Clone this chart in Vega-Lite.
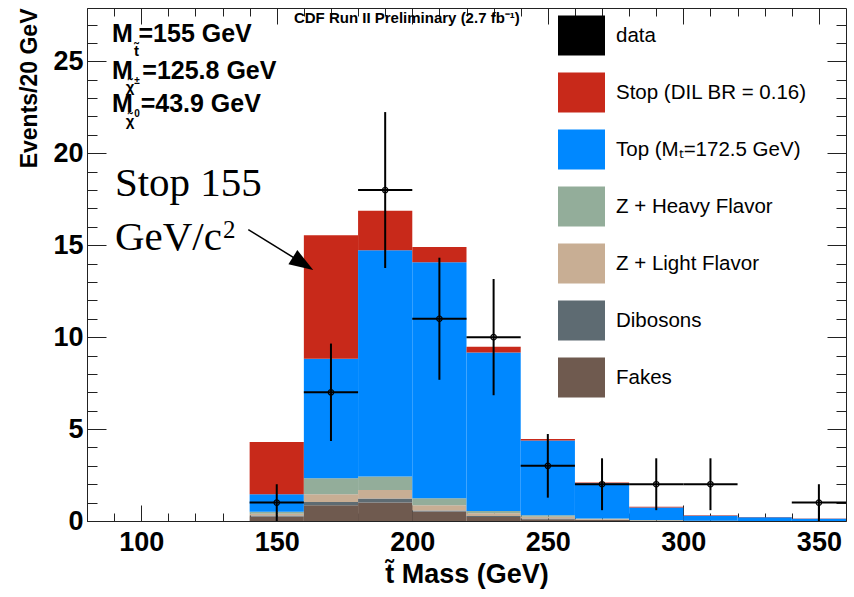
{
  "$schema": "https://vega.github.io/schema/vega-lite/v6.json",
  "width": 759,
  "height": 513,
  "autosize": {"type": "none"},
  "padding": {"left": 87, "top": 8, "right": 8, "bottom": 76},
  "background": "white",
  "config": {
    "view": {"stroke": "#222", "strokeWidth": 1},
    "font": "Liberation Sans",
    "axis": {"grid": false, "zindex": 1, "tickColor": "#222", "domainColor": "#222", "tickWidth": 1}
  },
  "datasets": {
    "bars": [
      {"lo": 140, "hi": 160, "proc": "Fakes", "ord": 1, "v": 0.25},
      {"lo": 140, "hi": 160, "proc": "Dibosons", "ord": 2, "v": 0.05},
      {"lo": 140, "hi": 160, "proc": "Z + Light Flavor", "ord": 3, "v": 0.1},
      {"lo": 140, "hi": 160, "proc": "Z + Heavy Flavor", "ord": 4, "v": 0.1},
      {"lo": 140, "hi": 160, "proc": "Top (Mₜ=172.5 GeV)", "ord": 5, "v": 0.95},
      {"lo": 140, "hi": 160, "proc": "Stop (DIL BR = 0.16)", "ord": 6, "v": 2.85},
      {"lo": 160, "hi": 180, "proc": "Fakes", "ord": 1, "v": 0.86},
      {"lo": 160, "hi": 180, "proc": "Dibosons", "ord": 2, "v": 0.17},
      {"lo": 160, "hi": 180, "proc": "Z + Light Flavor", "ord": 3, "v": 0.42},
      {"lo": 160, "hi": 180, "proc": "Z + Heavy Flavor", "ord": 4, "v": 0.88},
      {"lo": 160, "hi": 180, "proc": "Top (Mₜ=172.5 GeV)", "ord": 5, "v": 6.49},
      {"lo": 160, "hi": 180, "proc": "Stop (DIL BR = 0.16)", "ord": 6, "v": 6.72},
      {"lo": 180, "hi": 200, "proc": "Fakes", "ord": 1, "v": 1.0},
      {"lo": 180, "hi": 200, "proc": "Dibosons", "ord": 2, "v": 0.22},
      {"lo": 180, "hi": 200, "proc": "Z + Light Flavor", "ord": 3, "v": 0.47},
      {"lo": 180, "hi": 200, "proc": "Z + Heavy Flavor", "ord": 4, "v": 0.73},
      {"lo": 180, "hi": 200, "proc": "Top (Mₜ=172.5 GeV)", "ord": 5, "v": 12.3},
      {"lo": 180, "hi": 200, "proc": "Stop (DIL BR = 0.16)", "ord": 6, "v": 2.16},
      {"lo": 200, "hi": 220, "proc": "Fakes", "ord": 1, "v": 0.51},
      {"lo": 200, "hi": 220, "proc": "Dibosons", "ord": 2, "v": 0.06},
      {"lo": 200, "hi": 220, "proc": "Z + Light Flavor", "ord": 3, "v": 0.29},
      {"lo": 200, "hi": 220, "proc": "Z + Heavy Flavor", "ord": 4, "v": 0.38},
      {"lo": 200, "hi": 220, "proc": "Top (Mₜ=172.5 GeV)", "ord": 5, "v": 12.83},
      {"lo": 200, "hi": 220, "proc": "Stop (DIL BR = 0.16)", "ord": 6, "v": 0.83},
      {"lo": 220, "hi": 240, "proc": "Fakes", "ord": 1, "v": 0.22},
      {"lo": 220, "hi": 240, "proc": "Dibosons", "ord": 2, "v": 0.05},
      {"lo": 220, "hi": 240, "proc": "Z + Light Flavor", "ord": 3, "v": 0.15},
      {"lo": 220, "hi": 240, "proc": "Z + Heavy Flavor", "ord": 4, "v": 0.13},
      {"lo": 220, "hi": 240, "proc": "Top (Mₜ=172.5 GeV)", "ord": 5, "v": 8.62},
      {"lo": 220, "hi": 240, "proc": "Stop (DIL BR = 0.16)", "ord": 6, "v": 0.31},
      {"lo": 240, "hi": 260, "proc": "Fakes", "ord": 1, "v": 0.1},
      {"lo": 240, "hi": 260, "proc": "Dibosons", "ord": 2, "v": 0.03},
      {"lo": 240, "hi": 260, "proc": "Z + Light Flavor", "ord": 3, "v": 0.1},
      {"lo": 240, "hi": 260, "proc": "Z + Heavy Flavor", "ord": 4, "v": 0.08},
      {"lo": 240, "hi": 260, "proc": "Top (Mₜ=172.5 GeV)", "ord": 5, "v": 4.07},
      {"lo": 240, "hi": 260, "proc": "Stop (DIL BR = 0.16)", "ord": 6, "v": 0.08},
      {"lo": 260, "hi": 280, "proc": "Fakes", "ord": 1, "v": 0.05},
      {"lo": 260, "hi": 280, "proc": "Dibosons", "ord": 2, "v": 0.02},
      {"lo": 260, "hi": 280, "proc": "Z + Light Flavor", "ord": 3, "v": 0.04},
      {"lo": 260, "hi": 280, "proc": "Z + Heavy Flavor", "ord": 4, "v": 0.02},
      {"lo": 260, "hi": 280, "proc": "Top (Mₜ=172.5 GeV)", "ord": 5, "v": 1.92},
      {"lo": 260, "hi": 280, "proc": "Stop (DIL BR = 0.16)", "ord": 6, "v": 0.04},
      {"lo": 280, "hi": 300, "proc": "Fakes", "ord": 1, "v": 0.02},
      {"lo": 280, "hi": 300, "proc": "Dibosons", "ord": 2, "v": 0.01},
      {"lo": 280, "hi": 300, "proc": "Z + Light Flavor", "ord": 3, "v": 0.01},
      {"lo": 280, "hi": 300, "proc": "Z + Heavy Flavor", "ord": 4, "v": 0.01},
      {"lo": 280, "hi": 300, "proc": "Top (Mₜ=172.5 GeV)", "ord": 5, "v": 0.68},
      {"lo": 280, "hi": 300, "proc": "Stop (DIL BR = 0.16)", "ord": 6, "v": 0.04},
      {"lo": 300, "hi": 320, "proc": "Fakes", "ord": 1, "v": 0.01},
      {"lo": 300, "hi": 320, "proc": "Z + Light Flavor", "ord": 3, "v": 0.01},
      {"lo": 300, "hi": 320, "proc": "Top (Mₜ=172.5 GeV)", "ord": 5, "v": 0.27},
      {"lo": 300, "hi": 320, "proc": "Stop (DIL BR = 0.16)", "ord": 6, "v": 0.02},
      {"lo": 320, "hi": 340, "proc": "Top (Mₜ=172.5 GeV)", "ord": 5, "v": 0.21},
      {"lo": 320, "hi": 340, "proc": "Stop (DIL BR = 0.16)", "ord": 6, "v": 0.01},
      {"lo": 340, "hi": 360, "proc": "Top (Mₜ=172.5 GeV)", "ord": 5, "v": 0.12},
      {"lo": 340, "hi": 360, "proc": "Stop (DIL BR = 0.16)", "ord": 6, "v": 0.01}
    ],
    "pts": [
      {"c": 150, "lo": 140, "hi": 160, "n": 1, "el": 0, "eh": 2},
      {"c": 170, "lo": 160, "hi": 180, "n": 7, "el": 4.35, "eh": 9.65},
      {"c": 190, "lo": 180, "hi": 200, "n": 18, "el": 13.76, "eh": 22.24},
      {"c": 210, "lo": 200, "hi": 220, "n": 11, "el": 7.68, "eh": 14.32},
      {"c": 230, "lo": 220, "hi": 240, "n": 10, "el": 6.84, "eh": 13.16},
      {"c": 250, "lo": 240, "hi": 260, "n": 3, "el": 1.27, "eh": 4.73},
      {"c": 270, "lo": 260, "hi": 280, "n": 2, "el": 0.59, "eh": 3.41},
      {"c": 290, "lo": 280, "hi": 300, "n": 2, "el": 0.59, "eh": 3.41},
      {"c": 310, "lo": 300, "hi": 320, "n": 2, "el": 0.59, "eh": 3.41},
      {"c": 350, "lo": 340, "hi": 360, "n": 1, "el": 0, "eh": 2}
    ]
  },
  "resolve": {"axis": {"x": "independent", "y": "independent"}},
  "layer": [
    {
      "data": {"name": "bars"},
      "transform": [{"stack": "v", "groupby": ["lo"], "sort": [{"field": "ord", "order": "ascending"}], "offset": "zero", "as": ["y0", "y1"]}],
      "mark": {"type": "bar", "strokeWidth": 0},
      "encoding": {
        "x": {"field": "lo", "type": "quantitative",
          "scale": {"domain": [80, 360], "nice": false, "zero": false},
          "axis": {"orient": "bottom", "values": [100, 150, 200, 250, 300, 350], "tickSize": -16,
            "labelPadding": 24, "labelFontSize": 27, "labelFontWeight": "bold", "labelColor": "black", "labelFlush": false,
            "title": "t̃ Mass (GeV)", "titleFontSize": 27, "titleFontWeight": "bold", "titleColor": "black", "titlePadding": 6}},
        "x2": {"field": "hi"},
        "y": {"field": "y0", "type": "quantitative",
          "scale": {"domain": [0, 27.9], "nice": false, "zero": true},
          "axis": {"orient": "left", "values": [0, 5, 10, 15, 20, 25], "tickSize": -19,
            "labelPadding": 23, "labelFontSize": 27, "labelFontWeight": "bold", "labelColor": "black", "labelFlush": false,
            "title": "Events/20 GeV", "titleFontSize": 23, "titleFontWeight": "bold", "titleColor": "black",
            "titleAnchor": "end", "titlePadding": 11}},
        "y2": {"field": "y1"},
        "color": {"field": "proc", "type": "nominal",
          "scale": {
            "domain": ["data", "Stop (DIL BR = 0.16)", "Top (Mₜ=172.5 GeV)", "Z + Heavy Flavor", "Z + Light Flavor", "Dibosons", "Fakes"],
            "range": ["#000000", "#c8291a", "#0088ff", "#93ad9a", "#c8ae94", "#5e6b72", "#6f5a4f"]
          },
          "legend": {"orient": "none", "legendX": 471, "legendY": 4, "title": null,
            "symbolType": "M-1,-0.85L1,-0.85L1,0.85L-1,0.85Z", "symbolSize": 2209, "symbolStrokeWidth": 0, "symbolOpacity": 1,
            "labelFontSize": 20.5, "labelFont": "Liberation Sans", "labelColor": "black", "labelOffset": 11,
            "rowPadding": 13, "padding": 0, "labelLimit": 300}}
      }
    },
    {
      "data": {"name": "pts"},
      "mark": {"type": "rule", "color": "black", "strokeWidth": 2},
      "encoding": {
        "x": {"field": "c", "type": "quantitative",
          "axis": {"orient": "bottom", "values": [90, 110, 120, 130, 140, 160, 170, 180, 190, 210, 220, 230, 240, 260, 270, 280, 290, 310, 320, 330, 340],
            "tickSize": -8, "labels": false, "domain": false, "title": null}},
        "y": {"field": "el", "type": "quantitative",
          "axis": {"orient": "left", "values": [1, 2, 3, 4, 6, 7, 8, 9, 11, 12, 13, 14, 16, 17, 18, 19, 21, 22, 23, 24, 26, 27],
            "tickSize": -10, "labels": false, "domain": false, "title": null}},
        "y2": {"field": "eh"}
      }
    },
    {
      "data": {"name": "pts"},
      "mark": {"type": "rule", "color": "black", "strokeWidth": 2},
      "encoding": {
        "x": {"field": "lo", "type": "quantitative",
          "axis": {"orient": "top", "values": [100, 150, 200, 250, 300, 350], "tickSize": -16, "labels": false, "domain": false, "title": null}},
        "x2": {"field": "hi"},
        "y": {"field": "n", "type": "quantitative",
          "axis": {"orient": "right", "values": [5, 10, 15, 20, 25], "tickSize": -19, "labels": false, "domain": false, "title": null}}
      }
    },
    {
      "data": {"name": "pts"},
      "mark": {"type": "point", "shape": "circle", "size": 30, "filled": false, "stroke": "black", "strokeWidth": 1.2, "opacity": 1},
      "encoding": {
        "x": {"field": "c", "type": "quantitative",
          "axis": {"orient": "top", "values": [90, 110, 120, 130, 140, 160, 170, 180, 190, 210, 220, 230, 240, 260, 270, 280, 290, 310, 320, 330, 340],
            "tickSize": -8, "labels": false, "domain": false, "title": null}},
        "y": {"field": "n", "type": "quantitative",
          "axis": {"orient": "right", "values": [1, 2, 3, 4, 6, 7, 8, 9, 11, 12, 13, 14, 16, 17, 18, 19, 21, 22, 23, 24, 26, 27],
            "tickSize": -10, "labels": false, "domain": false, "title": null}}
      }
    },
    {
      "data": {"values": [{}]},
      "mark": {"type": "text", "text": "CDF Run II Preliminary (2.7 fb⁻¹)", "font": "Liberation Sans", "fontSize": 15, "fontWeight": "bold", "align": "center", "baseline": "middle", "color": "black"},
      "encoding": {"x": {"datum": 198, "type": "quantitative", "axis": null}, "y": {"datum": 27.35, "type": "quantitative", "axis": null}}
    },
    {
      "data": {"values": [{}]},
      "mark": {"type": "text", "text": "M", "fontSize": 25, "fontWeight": "bold", "align": "left", "baseline": "alphabetic", "color": "black"},
      "encoding": {"x": {"datum": 89.2, "type": "quantitative", "axis": null}, "y": {"datum": 26.03, "type": "quantitative", "axis": null}}
    },
    {
      "data": {"values": [{}]},
      "mark": {"type": "text", "text": "t̃", "fontSize": 15, "fontWeight": "bold", "align": "left", "baseline": "alphabetic", "color": "black"},
      "encoding": {"x": {"datum": 97.3, "type": "quantitative", "axis": null}, "y": {"datum": 25.3, "type": "quantitative", "axis": null}}
    },
    {
      "data": {"values": [{}]},
      "mark": {"type": "text", "text": "=155 GeV", "fontSize": 25, "fontWeight": "bold", "align": "left", "baseline": "alphabetic", "color": "black"},
      "encoding": {"x": {"datum": 99.0, "type": "quantitative", "axis": null}, "y": {"datum": 26.03, "type": "quantitative", "axis": null}}
    },
    {
      "data": {"values": [{}]},
      "mark": {"type": "text", "text": "M", "fontSize": 25, "fontWeight": "bold", "align": "left", "baseline": "alphabetic", "color": "black"},
      "encoding": {"x": {"datum": 89.2, "type": "quantitative", "axis": null}, "y": {"datum": 24.02, "type": "quantitative", "axis": null}}
    },
    {
      "data": {"values": [{}]},
      "mark": {"type": "text", "text": "χ̃", "fontSize": 15, "fontWeight": "bold", "align": "left", "baseline": "alphabetic", "color": "black"},
      "encoding": {"x": {"datum": 94.3, "type": "quantitative", "axis": null}, "y": {"datum": 23.35, "type": "quantitative", "axis": null}}
    },
    {
      "data": {"values": [{}]},
      "mark": {"type": "text", "text": "±", "fontSize": 10, "fontWeight": "bold", "align": "left", "baseline": "alphabetic", "color": "black"},
      "encoding": {"x": {"datum": 97.4, "type": "quantitative", "axis": null}, "y": {"datum": 23.75, "type": "quantitative", "axis": null}}
    },
    {
      "data": {"values": [{}]},
      "mark": {"type": "text", "text": "=125.8 GeV", "fontSize": 25, "fontWeight": "bold", "align": "left", "baseline": "alphabetic", "color": "black"},
      "encoding": {"x": {"datum": 100.4, "type": "quantitative", "axis": null}, "y": {"datum": 24.02, "type": "quantitative", "axis": null}}
    },
    {
      "data": {"values": [{}]},
      "mark": {"type": "text", "text": "M", "fontSize": 25, "fontWeight": "bold", "align": "left", "baseline": "alphabetic", "color": "black"},
      "encoding": {"x": {"datum": 89.2, "type": "quantitative", "axis": null}, "y": {"datum": 22.22, "type": "quantitative", "axis": null}}
    },
    {
      "data": {"values": [{}]},
      "mark": {"type": "text", "text": "χ̃", "fontSize": 15, "fontWeight": "bold", "align": "left", "baseline": "alphabetic", "color": "black"},
      "encoding": {"x": {"datum": 94.3, "type": "quantitative", "axis": null}, "y": {"datum": 21.5, "type": "quantitative", "axis": null}}
    },
    {
      "data": {"values": [{}]},
      "mark": {"type": "text", "text": "0", "fontSize": 10, "fontWeight": "bold", "align": "left", "baseline": "alphabetic", "color": "black"},
      "encoding": {"x": {"datum": 97.4, "type": "quantitative", "axis": null}, "y": {"datum": 21.95, "type": "quantitative", "axis": null}}
    },
    {
      "data": {"values": [{}]},
      "mark": {"type": "text", "text": "=43.9 GeV", "fontSize": 25, "fontWeight": "bold", "align": "left", "baseline": "alphabetic", "color": "black"},
      "encoding": {"x": {"datum": 99.8, "type": "quantitative", "axis": null}, "y": {"datum": 22.22, "type": "quantitative", "axis": null}}
    },
    {
      "data": {"values": [{}]},
      "mark": {"type": "text", "text": "Stop 155", "font": "Liberation Serif", "fontSize": 41, "align": "left", "baseline": "alphabetic", "color": "black"},
      "encoding": {"x": {"datum": 90.3, "type": "quantitative", "axis": null}, "y": {"datum": 17.66, "type": "quantitative", "axis": null}}
    },
    {
      "data": {"values": [{}]},
      "mark": {"type": "text", "text": "GeV/c", "font": "Liberation Serif", "fontSize": 41, "align": "left", "baseline": "alphabetic", "color": "black"},
      "encoding": {"x": {"datum": 90.3, "type": "quantitative", "axis": null}, "y": {"datum": 14.76, "type": "quantitative", "axis": null}}
    },
    {
      "data": {"values": [{}]},
      "mark": {"type": "text", "text": "2", "font": "Liberation Serif", "fontSize": 25, "align": "left", "baseline": "alphabetic", "color": "black"},
      "encoding": {"x": {"datum": 130.2, "type": "quantitative", "axis": null}, "y": {"datum": 15.39, "type": "quantitative", "axis": null}}
    },
    {
      "data": {"values": [{}]},
      "mark": {"type": "rule", "color": "black", "strokeWidth": 1.5},
      "encoding": {
        "x": {"datum": 139.5, "type": "quantitative", "axis": null},
        "y": {"datum": 15.85, "type": "quantitative", "axis": null},
        "x2": {"datum": 158.6},
        "y2": {"datum": 14.11}
      }
    },
    {
      "data": {"values": [{}]},
      "mark": {"type": "point", "shape": "M1,0L-1,-0.7L-1,0.7Z", "size": 576, "angle": 32, "filled": true, "color": "black", "opacity": 1},
      "encoding": {"x": {"datum": 159.7, "type": "quantitative", "axis": null}, "y": {"datum": 14.0, "type": "quantitative", "axis": null}}
    }
  ]
}
